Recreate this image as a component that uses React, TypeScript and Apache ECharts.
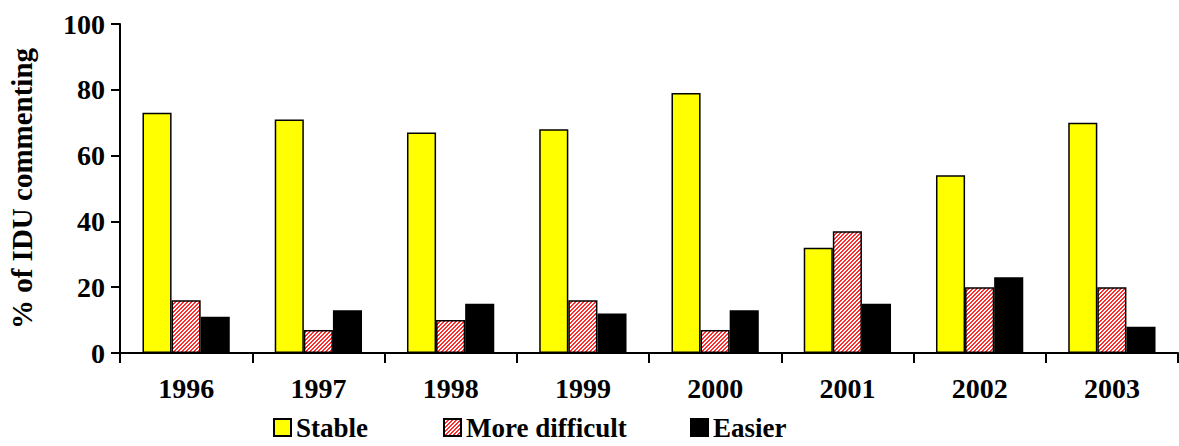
import React, { useEffect, useRef } from "react";
import * as echarts from "echarts";

const categories = ["1996", "1997", "1998", "1999", "2000", "2001", "2002", "2003"];
const stableValues = [73, 71, 67, 68, 79, 32, 54, 70];
const moreDifficultValues = [16, 7, 10, 16, 7, 37, 20, 20];
const easierValues = [11, 13, 15, 12, 13, 15, 23, 8];
const yTicks = { min: 0, max: 100, interval: 20 };
const yAxisTitle = "% of IDU commenting";

const FONT = "Liberation Serif, DejaVu Serif, serif";

function makeHatch(): HTMLCanvasElement {
  const c = document.createElement("canvas");
  c.width = 4;
  c.height = 4;
  const ctx = c.getContext("2d")!;
  ctx.fillStyle = "#ffffff";
  ctx.fillRect(0, 0, 4, 4);
  ctx.fillStyle = "#ff2a2a";
  for (let x = 0; x < 4; x++) {
    for (let y = 0; y < 4; y++) {
      const m = (x + y) % 4;
      if (m === 0 || m === 1) ctx.fillRect(x, y, 1, 1);
    }
  }
  return c;
}

export default function App() {
  const ref = useRef<HTMLDivElement>(null);
  useEffect(() => {
    if (!ref.current) return;
    const chart = echarts.init(ref.current, undefined, { renderer: "svg" });
    const hatch = makeHatch();
    const textStyle = { fontFamily: FONT, fontWeight: "bold" as const, fontSize: 28, color: "#000" };
    const border = { borderColor: "#000", borderWidth: 1.5 };
    const legendBase = {
      bottom: 0,
      itemWidth: 17,
      itemHeight: 17,
      itemGap: 0,
      icon: "rect",
      textStyle: { ...textStyle, fontSize: 27 },
      selectedMode: false,
    };
    chart.setOption({
      animation: false,
      textStyle: { fontFamily: FONT },
      grid: { left: 120, right: 1, top: 24, bottom: 93, outerBoundsMode: "none", containLabel: false },
      legend: [
        { ...legendBase, left: 268, data: ["Stable"] },
        { ...legendBase, left: 438, data: ["More difficult"] },
        { ...legendBase, left: 685, data: ["Easier"] },
      ],
      xAxis: {
        type: "category",
        data: categories,
        axisLine: { lineStyle: { color: "#000", width: 2 } },
        axisTick: { show: true, length: 10, lineStyle: { color: "#000", width: 2 } },
        axisLabel: { ...textStyle, margin: 21 },
      },
      yAxis: {
        type: "value",
        min: yTicks.min,
        max: yTicks.max,
        interval: yTicks.interval,
        name: yAxisTitle,
        nameLocation: "middle",
        nameGap: 84,
        nameTextStyle: { ...textStyle, fontSize: 29 },
        splitLine: { show: false },
        axisLine: { show: true, lineStyle: { color: "#000", width: 2 } },
        axisTick: { show: true, length: 9, lineStyle: { color: "#000", width: 2 } },
        axisLabel: { ...textStyle, margin: 15 },
      },
      series: [
        {
          name: "Stable",
          type: "bar",
          data: stableValues,
          barGap: "0%",
          barCategoryGap: "34%",
          itemStyle: { color: "#ffff00", ...border },
        },
        {
          name: "More difficult",
          type: "bar",
          data: moreDifficultValues,
          itemStyle: { color: { image: hatch, repeat: "repeat" }, ...border },
        },
        {
          name: "Easier",
          type: "bar",
          data: easierValues,
          itemStyle: { color: "#000000", ...border },
        },
      ],
    });
    return () => chart.dispose();
  }, []);
  return (
    <div
      ref={ref}
      style={{ position: "fixed", left: 0, top: 0, width: 1179, height: 446, background: "#fff" }}
    />
  );
}
